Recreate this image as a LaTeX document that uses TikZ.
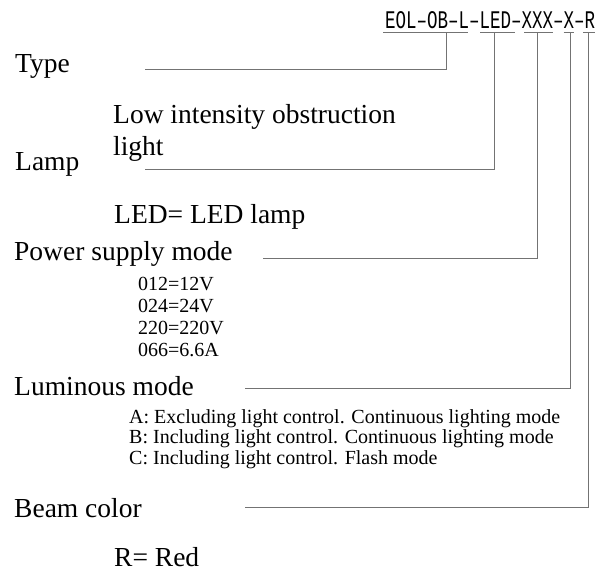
\documentclass[tikz,border=0pt]{standalone}
\usepackage{fontspec}
\setmainfont{Liberation Serif}
\newfontfamily\codefont{Liberation Mono}
\newcommand{\tallcode}[1]{\scalebox{1}[1.45]{\codefont #1}}
\begin{document}
\begin{tikzpicture}[x=1pt, y=-1pt,
	lead/.style={draw=black!55, line width=1pt},
	bigtext/.style={anchor=base west, inner sep=0pt, align=left, font=\fontsize{27.5}{32}\selectfont},
	smalltext/.style={anchor=base west, inner sep=0pt, align=left, font=\fontsize{20}{21.7}\selectfont},
	codeseg/.style={anchor=base west, inner xsep=0pt, inner ysep=4pt, font=\fontsize{17.5}{18}\selectfont},
	codedash/.style={codeseg, inner xsep=-0.8pt}]
	\useasboundingbox (0,0) rectangle (604,568);
	% model code
	\node[codeseg] (cType) at (385,28) {\tallcode{EOL–OB–L}};
	\node[codeseg] (cLamp) at (479.5,28) {\tallcode{LED}};
	\node[codeseg] (cPower) at (521.5,28) {\tallcode{XXX}};
	\node[codeseg] (cLum) at (563.5,28) {\tallcode{X}};
	\node[codeseg] (cBeam) at (584.5,28) {\tallcode{R}};
	\node[codedash] (d1) at (469.8,28) {\tallcode{–}};
	\node[codedash] (d2) at (511.8,28) {\tallcode{–}};
	\node[codedash] (d3) at (553.8,28) {\tallcode{–}};
	\node[codedash] (d4) at (574.8,28) {\tallcode{–}};
	\draw[lead] ([xshift=-2pt]cType.south west) -- ([xshift=-1pt]cType.south east);
	\draw[lead] ([xshift=0.5pt]cLamp.south west) -- ([xshift=4pt]cLamp.south east);
	\draw[lead] ([xshift=2.5pt]cPower.south west) -- (cPower.south east);
	\draw[lead] (cLum.south west) -- (cLum.south east);
	\draw[lead] ([xshift=-1.5pt]cBeam.south west) -- (cBeam.south east);
	% labels
	\node[bigtext] (type) at (15,72) {Type};
	\node[bigtext] (lamp) at (15,170) {Lamp};
	\node[bigtext] (lampdesc) at (113,155) {Low intensity obstruction\\light};
	\node[bigtext] (led) at (114,223) {LED= LED lamp};
	\node[bigtext] (power) at (14,260) {Power supply mode};
	\node[smalltext] (volts) at (138,356) {012=12V\\024=24V\\220=220V\\066=6.6A};
	\node[bigtext] (lum) at (14,395) {Luminous mode};
	\node[smalltext, font=\fontsize{20}{20.5}\selectfont] (modes) at (129,464) {A: Excluding light control. Continuous lighting mode\\B: Including light control. Continuous lighting mode\\C: Including light control. Flash mode};
	\node[bigtext] (beam) at (14,517) {Beam color};
	\node[bigtext] (red) at (114,566) {R= Red};
	% leader lines
	\coordinate (eType) at (145,69);
	\coordinate (eLamp) at (145,169);
	\coordinate (ePower) at (263,258);
	\coordinate (eLum) at (245,388);
	\coordinate (eBeam) at (245,507);
	\draw[lead] ([xshift=19pt]cType.south) |- (eType);
	\draw[lead] ([xshift=-1pt]cLamp.south) |- (eLamp);
	\draw[lead] (cPower.south) |- (ePower);
	\draw[lead] ([xshift=1.5pt]cLum.south) |- (eLum);
	\draw[lead] ([xshift=-1.5pt]cBeam.south) |- (eBeam);
\end{tikzpicture}
\end{document}
